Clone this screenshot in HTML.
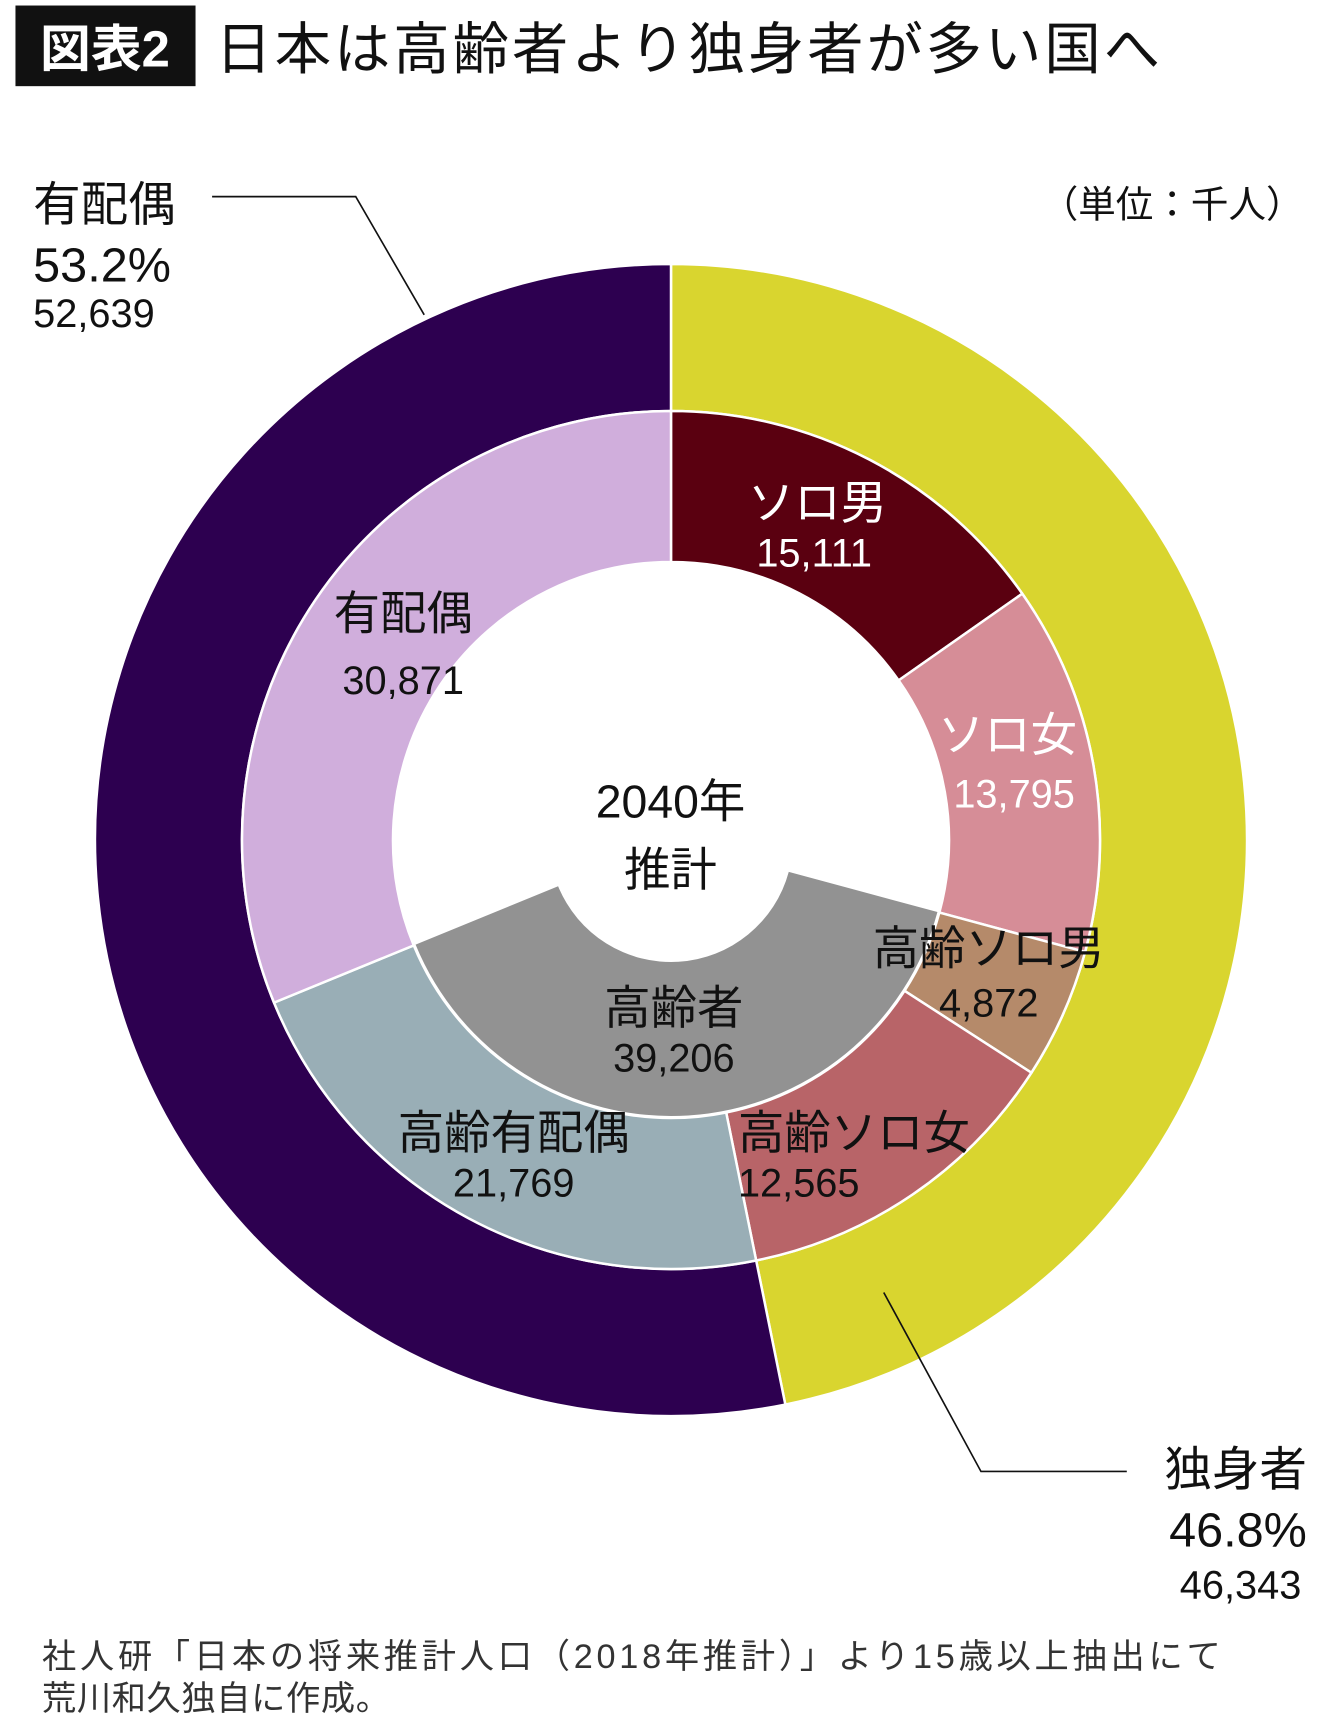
<!DOCTYPE html>
<html><head><meta charset="utf-8"><style>
html,body{margin:0;padding:0;background:#fff;}
svg{display:block;font-family:"Liberation Sans","Noto Sans CJK JP",sans-serif;}
</style></head><body>
<svg id="chart" width="1340" height="1731" viewBox="0 0 1340 1731">
<g id="rings"></g>
<g transform="scale(1.1047)" fill="#111">
  <rect x="14" y="5" width="163" height="73" fill="#111"/>
  <text x="95" y="60" font-size="46" fill="#fff" text-anchor="middle" font-weight="bold">図表2</text>
  <text x="195" y="62" font-size="51" textLength="855" lengthAdjust="spacing">日本は高齢者より独身者が多い国へ</text>
  <text x="1180" y="197" font-size="34" text-anchor="end">（単位：千人）</text>
  <polyline points="192,178 322,178 384,285" fill="none" stroke="#111" stroke-width="1.5"/>
  <text x="30" y="200" font-size="43">有配偶</text>
  <text x="30" y="255" font-size="44">53.2%</text>
  <text x="30" y="296" font-size="36">52,639</text>
  <polyline points="800,1170 888,1332 1020,1332" fill="none" stroke="#111" stroke-width="1.5"/>
  <text x="1183" y="1345" font-size="43" text-anchor="end">独身者</text>
  <text x="1183" y="1400" font-size="44" text-anchor="end">46.8%</text>
  <text x="1178" y="1447" font-size="36" text-anchor="end">46,343</text>
  <text x="607" y="740" font-size="42" text-anchor="middle">2040年</text>
  <text x="607" y="802" font-size="42" text-anchor="middle">推計</text>
  <text x="740" y="470" font-size="42" text-anchor="middle" fill="#fff">ソロ男</text>
  <text x="737" y="513" font-size="36" text-anchor="middle" fill="#fff">15,111</text>
  <text x="365" y="570" font-size="42" text-anchor="middle">有配偶</text>
  <text x="365" y="628" font-size="36" text-anchor="middle">30,871</text>
  <text x="912" y="680" font-size="42" text-anchor="middle" fill="#fff">ソロ女</text>
  <text x="918" y="731" font-size="36" text-anchor="middle" fill="#fff">13,795</text>
  <text x="895" y="873" font-size="42" text-anchor="middle">高齢ソロ男</text>
  <text x="895" y="920" font-size="36" text-anchor="middle">4,872</text>
  <text x="610" y="927" font-size="42" text-anchor="middle">高齢者</text>
  <text x="610" y="970" font-size="36" text-anchor="middle">39,206</text>
  <text x="465" y="1040" font-size="42" text-anchor="middle">高齢有配偶</text>
  <text x="465" y="1083" font-size="36" text-anchor="middle">21,769</text>
  <text x="668" y="1040" font-size="42">高齢ソロ女</text>
  <text x="668" y="1083" font-size="36">12,565</text>
  <text x="38" y="1510" font-size="31" fill="#333" textLength="1067" lengthAdjust="spacing">社人研「日本の将来推計人口（2018年推計）」より15歳以上抽出にて</text>
  <text x="38" y="1548" font-size="31" fill="#333" textLength="315" lengthAdjust="spacing">荒川和久独自に作成。</text>
</g>
</svg>
<script>
const outerCats = ['独身者','有配偶'];
const outerVals = [46343, 52639];
const innerCats = ['ソロ男','ソロ女','高齢ソロ男','高齢ソロ女','高齢有配偶','有配偶'];
const innerVals = [15111, 13795, 4872, 12565, 21769, 30871];
const elderlyTotal = [39206];

const cx = 671, cy = 840;
const outerColors = ['#d9d52f','#2d0050'];
const innerColors = ['#5a0010','#d68d97','#b58a6a','#b86468','#99aeb6','#d0aedc'];
const NS = 'http://www.w3.org/2000/svg';
const g = document.getElementById('rings');
function pt(r, a){ const t = a*Math.PI/180; return [cx + r*Math.sin(t), cy - r*Math.cos(t)]; }
function arc(r0, r1, a0, a1){
  const large = (a1 - a0) > 180 ? 1 : 0;
  const p0 = pt(r1,a0), p1 = pt(r1,a1), p2 = pt(r0,a1), p3 = pt(r0,a0);
  return `M${p0[0]},${p0[1]} A${r1},${r1} 0 ${large} 1 ${p1[0]},${p1[1]} L${p2[0]},${p2[1]} A${r0},${r0} 0 ${large} 0 ${p3[0]},${p3[1]} Z`;
}
function ring(vals, colors, r0, r1, names){
  const tot = vals.reduce((a,b)=>a+b,0);
  let a = 0;
  vals.forEach((v,i)=>{
    const a1 = a + v/tot*360;
    const p = document.createElementNS(NS,'path');
    p.setAttribute('d', arc(r0, r1, a, a1));
    p.setAttribute('fill', colors[i]);
    p.setAttribute('stroke', '#fff');
    p.setAttribute('stroke-width', '2.5');
    
    
    g.appendChild(p);
    a = a1;
  });
}
ring(outerVals, outerColors, 429, 576, ['outer-single-slice','outer-married-slice']);
ring(innerVals, innerColors, 278, 429, ['solo-male-slice','solo-female-slice','elder-solo-male-slice','elder-solo-female-slice','elder-married-slice','married-slice']);
const innerTot = innerVals.reduce((a,b)=>a+b,0);
const eStart = (innerVals[0]+innerVals[1])/innerTot*360;
const eEnd = eStart + elderlyTotal[0]/innerTot*360;
const gp = document.createElementNS(NS,'path');
gp.setAttribute('d', arc(122, 276, eStart, eEnd));
gp.setAttribute('fill', '#929292');


g.appendChild(gp);
</script>
</body></html>
